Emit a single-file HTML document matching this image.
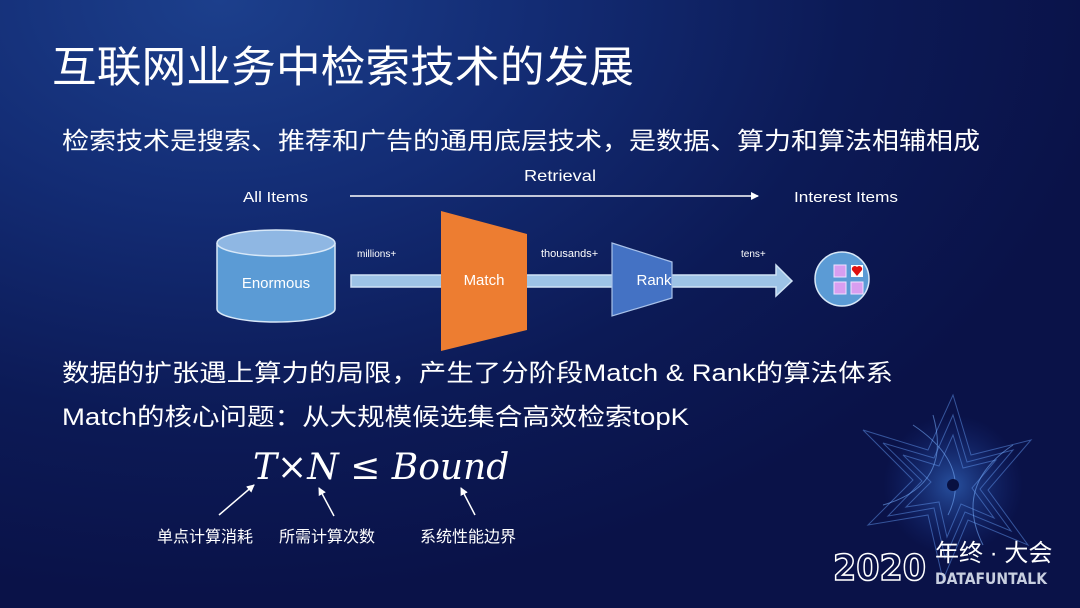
<!DOCTYPE html>
<html><head><meta charset="utf-8"><style>
html,body{margin:0;padding:0;width:1080px;height:608px;overflow:hidden}
body{background:radial-gradient(ellipse 900px 600px at 220px 0px,#1c3f8c 0%,#132c74 35%,#0c1a56 70%,#0a1248 100%)}
svg{position:absolute;left:0;top:0}
.cj{font-family:"Liberation Sans","Noto Sans CJK SC",sans-serif;fill:#fff}
</style></head><body>
<svg width="1080" height="608" viewBox="0 0 1080 608">
<defs>
<marker id="ah" markerWidth="8" markerHeight="8" refX="7" refY="4" orient="auto" markerUnits="userSpaceOnUse"><path d="M0,0 L8,4 L0,8z" fill="#fff"/></marker>
<radialGradient id="star" cx="0.5" cy="0.5" r="0.5"><stop offset="0" stop-color="#3c7ad8" stop-opacity="0.6"/><stop offset="1" stop-color="#1a3a9a" stop-opacity="0"/></radialGradient>
</defs>
<text class="cj" x="52" y="82" font-size="43" textLength="582" lengthAdjust="spacingAndGlyphs">互联网业务中检索技术的发展</text>
<text class="cj" x="62" y="149" font-size="24" textLength="918" lengthAdjust="spacingAndGlyphs">检索技术是搜索、推荐和广告的通用底层技术，是数据、算力和算法相辅相成</text>
<text class="cj" x="243" y="202" font-size="15" textLength="65" lengthAdjust="spacingAndGlyphs">All Items</text>
<text class="cj" x="524" y="181" font-size="16" textLength="72" lengthAdjust="spacingAndGlyphs">Retrieval</text>
<line x1="350" y1="196" x2="758" y2="196" stroke="#fff" stroke-width="1.5" marker-end="url(#ah)"/>
<text class="cj" x="794" y="202" font-size="15" textLength="104" lengthAdjust="spacingAndGlyphs">Interest Items</text>
<path d="M351,275 L776,275 L776,265 L792,281 L776,296 L776,287 L351,287z" fill="#9dc3e6" stroke="#cfe2f5" stroke-width="1.5"/>
<path d="M217,243 L217,309 A59,13 0 0 0 335,309 L335,243" fill="#5b9bd5" stroke="#d8e8f8" stroke-width="1.5"/>
<ellipse cx="276" cy="243" rx="59" ry="13" fill="#8fb7e3" stroke="#d8e8f8" stroke-width="1.5"/>
<text class="cj" x="276" y="288" font-size="15" text-anchor="middle" fill="#e8f0fa">Enormous</text>
<text class="cj" x="357" y="257" font-size="10">millions+</text>
<text class="cj" x="541" y="257" font-size="11">thousands+</text>
<text class="cj" x="741" y="257" font-size="10">tens+</text>
<path d="M441,211 L527,234 L527,330 L441,351z" fill="#ed7d31"/>
<text class="cj" x="484" y="285" font-size="15" text-anchor="middle">Match</text>
<path d="M612,243 L672,262 L672,298 L612,316z" fill="#4472c4" stroke="#a9c2ea" stroke-width="1.2"/>
<text class="cj" x="654" y="285" font-size="15" text-anchor="middle">Rank</text>
<circle cx="842" cy="279" r="27" fill="#5b9bd5" stroke="#d8e8f8" stroke-width="1.5"/>
<rect x="834" y="265" width="12" height="12" fill="#d89ef0" stroke="#f0e0ff"/>
<rect x="834" y="282" width="12" height="12" fill="#d89ef0" stroke="#f0e0ff"/>
<rect x="851" y="282" width="12" height="12" fill="#d89ef0" stroke="#f0e0ff"/>
<rect x="851" y="265" width="12" height="12" fill="#fff"/>
<path d="M857,276 L852,270 A3,3 0 0 1 857,267 A3,3 0 0 1 862,270z" fill="#e01010"/>
<text class="cj" x="62" y="381" font-size="24" textLength="831" lengthAdjust="spacingAndGlyphs">数据的扩张遇上算力的局限，产生了分阶段Match &amp; Rank的算法体系</text>
<text class="cj" x="62" y="425" font-size="24" textLength="627" lengthAdjust="spacingAndGlyphs">Match的核心问题：从大规模候选集合高效检索topK</text>
<text x="253" y="479" font-size="36" fill="#fff" font-family="'DejaVu Serif','Liberation Serif',serif"><tspan font-style="italic">T</tspan>×<tspan font-style="italic">N</tspan> ≤ <tspan font-style="italic">Bound</tspan></text>
<line x1="219" y1="515" x2="254" y2="485" stroke="#fff" stroke-width="1.5" marker-end="url(#ah)"/>
<line x1="334" y1="516" x2="319" y2="488" stroke="#fff" stroke-width="1.5" marker-end="url(#ah)"/>
<line x1="475" y1="515" x2="461" y2="488" stroke="#fff" stroke-width="1.5" marker-end="url(#ah)"/>
<text class="cj" x="157" y="542" font-size="16">单点计算消耗</text>
<text class="cj" x="279" y="542" font-size="16">所需计算次数</text>
<text class="cj" x="420" y="542" font-size="16">系统性能边界</text>
<g transform="translate(953,485)" stroke="#5a8ae0" stroke-opacity="0.55" fill="none" stroke-width="1">
<circle r="70" fill="url(#star)" stroke="none"/>
<polygon points="0,-90 18,-30 78,-45 35,5 75,60 15,35 -10,95 -25,30 -85,40 -40,-5 -90,-55 -25,-35"/>
<polygon points="0,-70 14,-23 60,-35 27,4 58,46 12,27 -8,73 -19,23 -65,31 -31,-4 -70,-42 -19,-27"/>
<polygon points="0,-50 10,-17 43,-25 19,3 41,33 8,19 -6,52 -14,17 -47,22 -22,-3 -50,-30 -14,-19"/>
<path d="M-40,-60 Q20,-20 -5,30 M60,-40 Q0,0 30,60 M-70,20 Q0,0 -20,-70" stroke="#7ab0ff"/>
<circle r="6" fill="#081040" stroke="none"/>
</g>
<text x="833" y="580" font-size="36" font-family="'DejaVu Sans',sans-serif" fill="none" stroke="#fff" stroke-width="1.6" font-weight="bold" textLength="93" lengthAdjust="spacingAndGlyphs">2020</text>
<text class="cj" x="935" y="561" font-size="24">年终 · 大会</text>
<text x="935" y="584" font-size="16" font-weight="bold" font-family="'DejaVu Sans',sans-serif" fill="#c8cfe0" textLength="112" lengthAdjust="spacingAndGlyphs">DATAFUNTALK</text>
</svg>
</body></html>
